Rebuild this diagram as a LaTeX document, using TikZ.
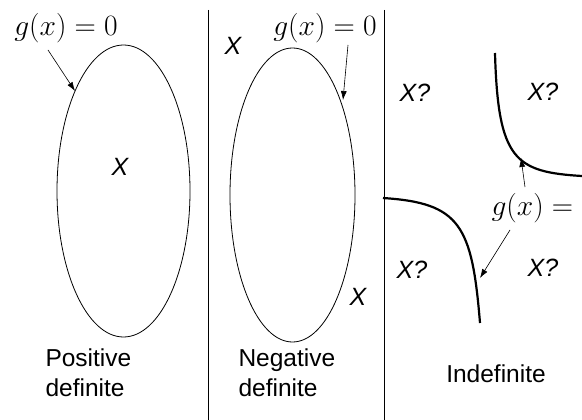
\documentclass[tikz,border=0pt]{standalone}
\usepackage{fix-cm}
\usepackage{amsmath}
\usepackage{fontspec}
\setmainfont{Liberation Sans}
\usetikzlibrary{arrows.meta}

\begin{document}
\begin{tikzpicture}[x=1pt, y=-1pt,
    every node/.style={font=\fontsize{24.5}{30}\selectfont},
    qlabel/.style={font=\fontsize{25}{30}\selectfont\itshape},
    glabel/.style={font=\fontsize{29.5}{34}\selectfont},
    pointer/.style={-{Latex[length=9pt, width=6pt]}, line width=0.6pt},
    branch/.style={line width=2.2pt}]
    \useasboundingbox (0,0) rectangle (582,420);
    \clip (0,0) rectangle (582,420);

    % Dividers
    \draw[line width=0.8pt] (208,10) -- (208,420);
    \draw[line width=0.8pt] (384,10) -- (384,420);

    % Positive definite
    \draw[line width=0.8pt] (123.5,191) ellipse (66.5 and 146);
    \node[glabel] (gpos) at (66,28) {$g(x)=0$};
    \node[qlabel] (xpos) at (120,167) {X};
    \coordinate (tailpos) at (48,50);
    \coordinate (tippos) at (75,91);
    \draw[pointer] (tailpos) -- (tippos);
    \node[align=left, anchor=north west] (lblpos) at (42,345) {Positive\\definite};

    % Negative definite
    \draw[line width=0.8pt] (292.5,195) ellipse (62.5 and 147);
    \node[glabel] (gneg) at (325,28) {$g(x)=0$};
    \node[qlabel] (xnegA) at (233,46) {X};
    \node[qlabel] (xnegB) at (358,297) {X};
    \coordinate (tailneg) at (348,45);
    \coordinate (tipneg) at (343,100);
    \draw[pointer] (tailneg) -- (tipneg);
    \node[align=left, anchor=north west] (lblneg) at (235,345) {Negative\\definite};

    % Indefinite
    \draw[branch] (495,53) .. controls (498,160) and (515,172) .. (582,176);
    \draw[branch] (383,198) .. controls (460,203) and (472,225) .. (480,323);
    \node[glabel, anchor=west] (gind) at (488,208) {$g(x)=0$};
    \node[qlabel] (xindA) at (415,93) {X?};
    \node[qlabel] (xindB) at (543,92) {X?};
    \node[qlabel] (xindC) at (412,270) {X?};
    \node[qlabel] (xindD) at (543,268) {X?};
    \coordinate (tailup) at (525,187);
    \coordinate (tipup) at (521,158);
    \coordinate (taillow) at (510,230);
    \coordinate (tiplow) at (480,278);
    \draw[pointer] (tailup) -- (tipup);
    \draw[pointer] (taillow) -- (tiplow);
    \node (lblind) at (496,374) {Indefinite};
\end{tikzpicture}
\end{document}
